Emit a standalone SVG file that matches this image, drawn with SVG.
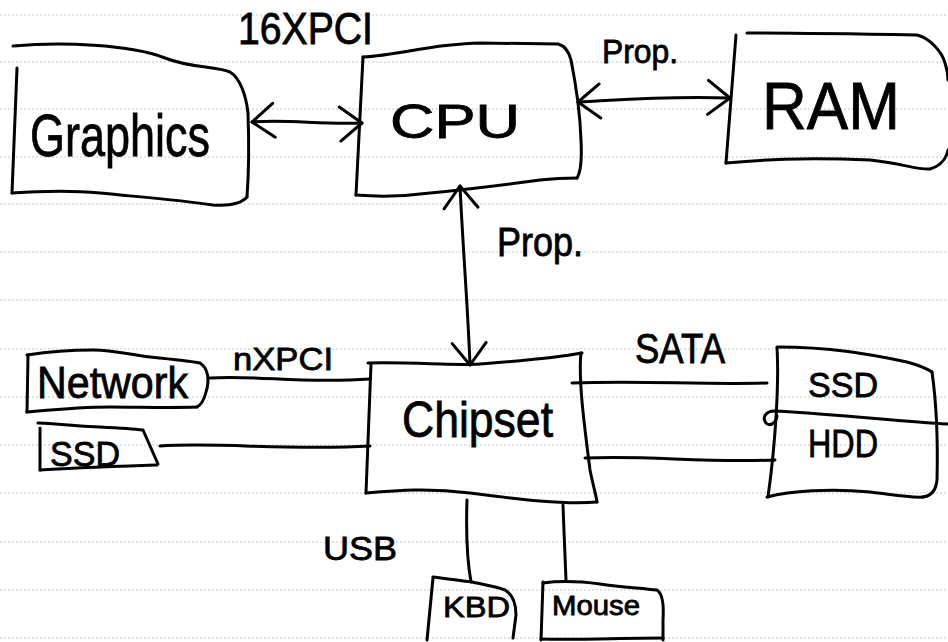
<svg xmlns="http://www.w3.org/2000/svg" width="948" height="642" viewBox="0 0 948 642">
  <style>
    .rule { stroke: #c4c4c4; stroke-width: 1; stroke-dasharray: 2 2; }
    .ink { fill: none; stroke: #000; stroke-width: 3; stroke-linecap: round; stroke-linejoin: round; }
    .hand { font-family: "Liberation Sans", "DejaVu Sans", sans-serif; fill: #000; stroke: #000; stroke-width: 0.8; }
  </style>
  <defs>
    <marker id="chev" viewBox="-25 -20 30 40" refX="0" refY="0" markerWidth="30" markerHeight="40" markerUnits="userSpaceOnUse" orient="auto-start-reverse" overflow="visible">
      <path d="M-22,-17 L0,0 L-22,17" fill="none" stroke="#000" stroke-width="3" stroke-linecap="round" stroke-linejoin="round"/>
    </marker>
  </defs>

  <rect width="948" height="642" fill="#fff"/>

  <!-- ruled notebook paper -->
  <g id="paper">
    <line class="rule" x1="0" y1="15" x2="948" y2="15"/>
    <line class="rule" x1="0" y1="62" x2="948" y2="62"/>
    <line class="rule" x1="0" y1="109" x2="948" y2="109"/>
    <line class="rule" x1="0" y1="157" x2="948" y2="157"/>
    <line class="rule" x1="0" y1="204" x2="948" y2="204"/>
    <line class="rule" x1="0" y1="252" x2="948" y2="252"/>
    <line class="rule" x1="0" y1="300" x2="948" y2="300"/>
    <line class="rule" x1="0" y1="349" x2="948" y2="349"/>
    <line class="rule" x1="0" y1="397" x2="948" y2="397"/>
    <line class="rule" x1="0" y1="445" x2="948" y2="445"/>
    <line class="rule" x1="0" y1="493" x2="948" y2="493"/>
    <line class="rule" x1="0" y1="542" x2="948" y2="542"/>
    <line class="rule" x1="0" y1="590" x2="948" y2="590"/>
    <line class="rule" x1="0" y1="638" x2="948" y2="638"/>
  </g>

  <!-- connectors -->
  <g id="connectors">
    <path class="ink" d="M252,122 C290,119 320,125 362,123" marker-start="url(#chev)" marker-end="url(#chev)"/>
    <path class="ink" d="M578,102 C620,100 660,96 730,98" marker-start="url(#chev)" marker-end="url(#chev)"/>
    <path class="ink" d="M460,186 C463,250 468,310 470,365" marker-start="url(#chev)" marker-end="url(#chev)"/>
    <path class="ink" d="M210,378 C260,375 300,384 370,379"/>
    <path class="ink" d="M160,446 C220,442 290,451 370,446"/>
    <path class="ink" d="M572,383 C640,380 700,385 767,383"/>
    <path class="ink" d="M585,458 C650,455 700,463 775,460"/>
    <path class="ink" d="M467,500 C466,530 467,560 471,582"/>
    <path class="ink" d="M563,505 C564,530 565,560 566,580"/>
    <text class="hand" x="238" y="44" font-size="44" textLength="135" lengthAdjust="spacingAndGlyphs">16XPCI</text>
    <text class="hand" x="602" y="63" font-size="34" textLength="76" lengthAdjust="spacingAndGlyphs">Prop.</text>
    <text class="hand" x="497" y="256" font-size="40" textLength="86" lengthAdjust="spacingAndGlyphs">Prop.</text>
    <text class="hand" x="233" y="370" font-size="32" textLength="100" lengthAdjust="spacingAndGlyphs">nXPCI</text>
    <text class="hand" x="635" y="363" font-size="42" textLength="90" lengthAdjust="spacingAndGlyphs">SATA</text>
    <text class="hand" x="323" y="560" font-size="34" textLength="74" lengthAdjust="spacingAndGlyphs">USB</text>
  </g>

  <!-- Graphics -->
  <g id="graphics">
    <path class="ink" d="M13,46 C60,42 130,44 165,58 C190,68 215,66 230,72 C240,78 246,95 248,113 C249,140 249,170 247,197"/>
    <path class="ink" d="M17,68 L12,193"/>
    <path class="ink" d="M12,193 C40,191 70,190 100,193 C140,197 180,200 213,205 C230,206 242,203 247,197"/>
    <text class="hand" x="30" y="156" font-size="60" textLength="180" lengthAdjust="spacingAndGlyphs">Graphics</text>
  </g>

  <!-- CPU -->
  <g id="cpu">
    <path class="ink" d="M363,57 C400,55 430,44 480,43 L558,44 C566,46 569,52 571,60 C575,80 580,110 581,140 C582,160 581,172 577,178"/>
    <path class="ink" d="M363,57 L356,195"/>
    <path class="ink" d="M356,195 C380,197 400,197 430,193 C470,189 510,184 540,180 C558,178 570,178 577,178"/>
    <text class="hand" x="390" y="138" font-size="48" textLength="130" lengthAdjust="spacingAndGlyphs">CPU</text>
  </g>

  <!-- RAM -->
  <g id="ram">
    <path class="ink" d="M736,35 L726,163"/>
    <path class="ink" d="M747,33 C800,33 860,34 917,35 C930,38 942,52 945,63 C948,72 948,80 948,80"/>
    <path class="ink" d="M726,163 C760,160 800,157 870,160 C900,163 918,170 930,169 C940,166 946,160 948,150"/>
    <text class="hand" x="762" y="129" font-size="66" textLength="138" lengthAdjust="spacingAndGlyphs">RAM</text>
  </g>

  <!-- Chipset -->
  <g id="chipset">
    <path class="ink" d="M368,363 C420,362 450,366 480,364 C520,361 555,358 582,353"/>
    <path class="ink" d="M371,364 L366,493"/>
    <path class="ink" d="M581,353 C578,380 585,430 590,470 C593,485 596,495 597,502"/>
    <path class="ink" d="M366,493 C400,490 430,488 470,493 C510,498 560,505 597,502"/>
    <text class="hand" x="402" y="437" font-size="50" textLength="151" lengthAdjust="spacingAndGlyphs">Chipset</text>
  </g>

  <!-- Network -->
  <g id="network">
    <path class="ink" d="M27,355 C40,353 70,350 93,350 C115,350 130,355 150,357 C170,359 190,361 200,363 C208,368 210,380 206,392 C204,400 201,405 197,407"/>
    <path class="ink" d="M28,355 L27,412"/>
    <path class="ink" d="M27,412 C50,410 80,407 110,407 C140,407 170,408 197,407"/>
    <text class="hand" x="37" y="398" font-size="44" textLength="151" lengthAdjust="spacingAndGlyphs">Network</text>
  </g>

  <!-- SSD (left) -->
  <g id="ssd-left">
    <path class="ink" d="M38,423 C60,424 80,426 100,427 C120,428 135,429 143,430 L158,464"/>
    <path class="ink" d="M40,428 L40,470"/>
    <path class="ink" d="M40,470 C70,468 100,467 157,465"/>
    <text class="hand" x="50" y="466" font-size="35" textLength="70" lengthAdjust="spacingAndGlyphs">SSD</text>
  </g>

  <!-- SSD / HDD storage -->
  <g id="storage">
    <path class="ink" d="M777,348 C779,380 776,440 768,497"/>
    <path class="ink" d="M777,347 C830,347 870,354 907,362 C918,365 926,368 932,372"/>
    <path class="ink" d="M932,372 C936,400 938,440 937,480 C936,490 931,496 923,497"/>
    <path class="ink" d="M767,497 C790,491 830,488 870,492 C895,495 910,498 923,497"/>
    <path class="ink" d="M948,424 C900,422 850,415 775,411 C765,411 762,418 766,423 C770,427 776,423 777,416"/>
    <text class="hand" x="808" y="397" font-size="35" textLength="70" lengthAdjust="spacingAndGlyphs">SSD</text>
    <text class="hand" x="808" y="457" font-size="38" textLength="70" lengthAdjust="spacingAndGlyphs">HDD</text>
  </g>

  <!-- KBD -->
  <g id="kbd">
    <path class="ink" d="M433,577 C450,579 462,581 472,582 C486,585 497,587 505,590 C513,595 516,605 516,615 L513,638"/>
    <path class="ink" d="M433,578 L427,640"/>
    <text class="hand" x="443" y="617" font-size="30" textLength="67" lengthAdjust="spacingAndGlyphs">KBD</text>
  </g>

  <!-- Mouse -->
  <g id="mouse">
    <path class="ink" d="M543,582 L541,640"/>
    <path class="ink" d="M543,583 C565,580 585,582 600,584 C620,587 640,588 657,590 C663,594 664,605 663,620 L663,640"/>
    <path class="ink" d="M541,639 C580,640 620,638 663,638"/>
    <text class="hand" x="552" y="615" font-size="28" textLength="88" lengthAdjust="spacingAndGlyphs">Mouse</text>
  </g>
</svg>
